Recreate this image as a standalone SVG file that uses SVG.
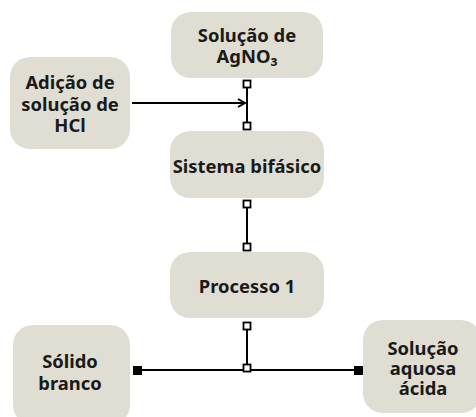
<svg xmlns="http://www.w3.org/2000/svg" width="476" height="417" viewBox="0 0 476 417">
<style>
.n{fill:#e0ded3}
.t{font-family:"Noto Sans","DejaVu Sans",sans-serif;font-weight:bold;font-size:18.4px;fill:#1a1a1a;text-anchor:middle}
.c{stroke:#000;stroke-width:2;fill:none}
.o{fill:#fff;stroke:#000;stroke-width:1.8}
.f{fill:#000}
</style>
<defs>
<marker id="a" markerWidth="10" markerHeight="10" refX="8" refY="5" orient="auto" markerUnits="userSpaceOnUse">
<path d="M1,1 L8,5 L1,9" fill="none" stroke="#000" stroke-width="2"/>
</marker>
</defs>
<rect width="476" height="417" fill="#fff"/>
<g id="n1"><rect class="n" x="171" y="12" width="152" height="66" rx="20"/>
<text class="t" x="247" y="42">Solução de</text><text class="t" x="247" y="63">AgNO₃</text></g>
<g id="n2"><rect class="n" x="10" y="57" width="120" height="92" rx="20"/>
<text class="t" x="70" y="89">Adição de</text><text class="t" x="70" y="111">solução de</text><text class="t" x="70" y="132">HCl</text></g>
<g id="n3"><rect class="n" x="170" y="131" width="154" height="67" rx="20"/>
<text class="t" x="247" y="173">Sistema bifásico</text></g>
<g id="n4"><rect class="n" x="170" y="252" width="154" height="66" rx="20"/>
<text class="t" x="247" y="293">Processo 1</text></g>
<g id="n5"><rect class="n" x="13" y="325" width="117" height="100" rx="20"/>
<text class="t" x="70" y="368">Sólido</text><text class="t" x="70" y="390">branco</text></g>
<g id="n6"><rect class="n" x="363" y="320" width="118" height="93" rx="20"/>
<text class="t" x="423" y="355">Solução</text><text class="t" x="423" y="375">aquosa</text><text class="t" x="423" y="395">ácida</text></g>
<g id="connectors">
<path class="c" d="M247,85 V125"/>
<path class="c" d="M132,103 H245" marker-end="url(#a)"/>
<path class="c" d="M247,203 V247"/>
<path class="c" d="M247,324 V370"/>
<path class="c" d="M137,370 H358"/>
<rect class="o" x="243.5" y="80.5" width="7" height="7"/>
<rect class="o" x="243.5" y="122.5" width="7" height="7"/>
<rect class="o" x="243.5" y="200.5" width="7" height="7"/>
<rect class="o" x="243.5" y="243.5" width="7" height="7"/>
<rect class="o" x="243.5" y="322.5" width="7" height="7"/>
<rect class="o" x="243.5" y="364.5" width="7" height="7"/>
<rect class="f" x="133" y="366" width="9" height="9"/>
<rect class="f" x="354" y="366" width="9" height="9"/>
</g>
</svg>
